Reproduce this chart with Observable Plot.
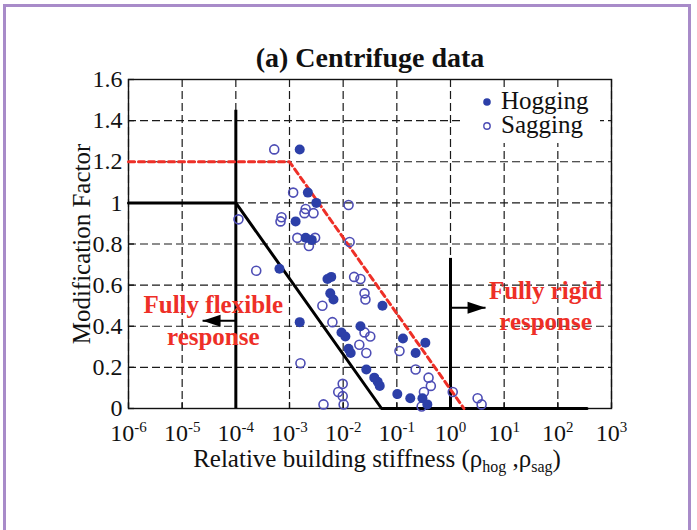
<!DOCTYPE html>
<html><head><meta charset="utf-8">
<script src="https://cdn.jsdelivr.net/npm/d3@7"></script>
<script src="https://cdn.jsdelivr.net/npm/@observablehq/plot@0.6"></script>
<style>
html,body{margin:0;padding:0;background:#fff;}
#wrap{position:relative;width:697px;height:530px;overflow:hidden;background:#fff;}
#border{position:absolute;left:3px;top:4px;width:688px;height:560px;border:3px solid #a88bc9;box-sizing:border-box;}
#chart{position:absolute;left:0;top:0;}
</style></head><body>
<div id="wrap"><div id="border"></div><div id="chart"></div></div>
<script>
// ---- data ----
const xTicks = [1e-6, 1e-5, 1e-4, 1e-3, 1e-2, 1e-1, 1e0, 1e1, 1e2, 1e3];
const yTicks = [0, 0.2, 0.4, 0.6, 0.8, 1.0, 1.2, 1.4, 1.6];

const hogRho = [1.55e-3, 2.2e-3, 3.16e-3, 1.3e-3, 2.0e-3, 2.6e-3, 6.5e-4, 6.0e-3, 5.1e-3, 5.75e-3,
  6.6e-3, 5.4e-2, 1.55e-3, 2.1e-2, 9.3e-3, 1.1e-2, 0.13, 0.34, 1.26e-2, 1.38e-2,
  0.224, 2.7e-2, 3.8e-2, 4.4e-2, 4.8e-2, 0.102, 0.178, 0.30, 0.37];
const hogFactor = [1.26, 1.05, 1.00, 0.91, 0.83, 0.82, 0.68, 0.64, 0.63, 0.56,
  0.53, 0.50, 0.42, 0.40, 0.37, 0.35, 0.34, 0.32, 0.29, 0.27,
  0.27, 0.19, 0.15, 0.13, 0.11, 0.07, 0.05, 0.05, 0.02];

const sagRho = [5.2e-4, 1.17e-3, 2.0e-3, 1.9e-3, 2.8e-3, 1.26e-2, 1.12e-4, 7.1e-4, 6.8e-4, 1.4e-3,
  3.0e-3, 2.3e-3, 1.32e-2, 2.4e-4, 1.6e-2, 2.1e-2, 2.5e-2, 2.6e-2, 4.1e-3, 6.3e-3,
  2.5e-2, 3.2e-2, 2.0e-2, 2.7e-2, 0.112, 1.6e-3, 0.224, 0.39, 0.43, 0.32,
  0.29, 1.1, 3.2, 3.8, 9.8e-3, 8.1e-3, 9.8e-3, 4.3e-3, 1.02e-2];
const sagFactor = [1.26, 1.05, 0.97, 0.95, 0.95, 0.99, 0.92, 0.93, 0.91, 0.83,
  0.83, 0.79, 0.81, 0.67, 0.64, 0.63, 0.56, 0.53, 0.50, 0.42,
  0.37, 0.35, 0.31, 0.27, 0.28, 0.22, 0.19, 0.15, 0.11, 0.08,
  0.01, 0.08, 0.05, 0.02, 0.12, 0.08, 0.06, 0.02, 0.02];

const lowerBoundRho = [1e-6, 1e-4, 0.052, 350];
const lowerBoundFactor = [1, 1, 0, 0];
const upperBoundRho = [1e-6, 1e-3, 1.78];
const upperBoundFactor = [1.2, 1.2, 0];

const limitRho = [1e-4, 1];
const limitTop = [1.45, 0.73];
const arrowFrom = [1e-4, 1];
const arrowTo = [2.4e-5, 4.5];
const arrowFactor = [0.427, 0.49];
const arrowAngle = [180, 0];

const noteText = ["Fully flexible", "response", "Fully rigid", "response"];
const noteRho = [3.8e-5, 3.8e-5, 59, 59];
const noteFactor = [0.505, 0.35, 0.57, 0.42];

const legendNames = ["Hogging", "Sagging"];

// ---- tables ----
const hog = hogRho.map((r, i) => ({rho: r, factor: hogFactor[i]}));
const sag = sagRho.map((r, i) => ({rho: r, factor: sagFactor[i]}));
const lower = lowerBoundRho.map((r, i) => ({rho: r, factor: lowerBoundFactor[i]}));
const upper = upperBoundRho.map((r, i) => ({rho: r, factor: upperBoundFactor[i]}));
const limits = limitRho.map((r, i) => ({rho: r, top: limitTop[i]}));
const arrows = arrowFrom.map((r, i) => ({from: r, to: arrowTo[i], factor: arrowFactor[i], angle: arrowAngle[i]}));
const notes = noteText.map((t, i) => ({text: t, rho: noteRho[i], factor: noteFactor[i]}));

const arrowHead = {draw(ctx) { ctx.moveTo(0, 0); ctx.lineTo(-18, -6); ctx.lineTo(-18, 6); ctx.closePath(); }};

const serif = '"Liberation Serif","Times New Roman",serif';
const hogColor = "#2c3fa8", sagColor = "#4d4db5", red = "#ee2f27";

const plot = Plot.plot({
  width: 697, height: 530,
  marginLeft: 128, marginRight: 86, marginTop: 79, marginBottom: 122,
  x: {type: "log", domain: [1e-6, 1e3]},
  y: {domain: [0, 1.6]},
  style: {fontFamily: serif, fontSize: "24px", color: "#111", background: "transparent", overflow: "visible"},
  marks: [
    Plot.gridX(xTicks, {stroke: "#1a1a1a", strokeOpacity: 1, strokeWidth: 1.2, strokeDasharray: "8,4"}),
    Plot.gridY(yTicks, {stroke: "#1a1a1a", strokeOpacity: 1, strokeWidth: 1.2, strokeDasharray: "8,4"}),
    Plot.tickX(xTicks, {stroke: "#111", strokeWidth: 1.3, insetTop: 323}),
    Plot.tickY(yTicks, {stroke: "#111", strokeWidth: 1.3, insetRight: 477}),
    Plot.frame({stroke: "#111", strokeWidth: 1.4}),
    Plot.axisX(xTicks, {tickSize: 0, tickPadding: 15, fontSize: 24, label: null,
      tickFormat: d => String(Math.round(Math.log10(d)))}),
    Plot.axisY(yTicks, {tickSize: 0, tickPadding: 6, fontSize: 24, label: null,
      tickFormat: d => String(+d.toFixed(1))}),
    Plot.text(["Modification Factor"], {frameAnchor: "left", textAnchor: "middle", lineAnchor: "middle",
      dx: -47, rotate: -90, fontSize: 25, text: d => d}),
    Plot.text(["(a) Centrifuge data"], {frameAnchor: "top", lineAnchor: "middle", dy: -21,
      fontWeight: "bold", fontSize: 28, text: d => d}),
    Plot.line(lower, {x: "rho", y: "factor", stroke: "#000", strokeWidth: 3}),
    Plot.ruleX(limits, {x: "rho", y1: 0, y2: "top", stroke: "#000", strokeWidth: 3}),
    Plot.line(upper, {x: "rho", y: "factor", stroke: red, strokeWidth: 3, strokeDasharray: "6,4"}),
    Plot.link(arrows, {x1: "from", x2: "to", y1: "factor", y2: "factor", stroke: "#000", strokeWidth: 2}),
    Plot.dot(arrows, {x: "to", y: "factor", symbol: arrowHead, rotate: "angle", fill: "#000", stroke: "none"}),
    Plot.text(notes, {x: "rho", y: "factor", text: "text", fill: red, fontWeight: "bold", fontSize: 25}),
    Plot.dot(sag, {x: "rho", y: "factor", r: 4.5, stroke: sagColor, strokeWidth: 1.6, fill: "none"}),
    Plot.dot(hog, {x: "rho", y: "factor", r: 5, fill: hogColor, stroke: "none"})
  ]
});
document.getElementById("chart").appendChild(plot);

const svg = d3.select(plot);
// superscript exponents on x tick labels
svg.selectAll('g[aria-label="x-axis tick label"] text').each(function() {
  const t = d3.select(this);
  const e = t.text();
  t.text(null);
  t.append("tspan").text("10");
  t.append("tspan").attr("dy", "-9").style("font-size", "15px").text(e);
});

// x axis label with subscripts
const xl = svg.append("text").attr("x", 377).attr("y", 467)
  .style("text-anchor", "middle").style("font-family", serif).style("font-size", "25px").style("fill", "#111");
xl.append("tspan").text("Relative building stiffness (ρ");
xl.append("tspan").attr("dy", 5).style("font-size", "16px").text("hog");
xl.append("tspan").attr("dy", -5).text(" ,ρ");
xl.append("tspan").attr("dy", 5).style("font-size", "16px").text("sag");
xl.append("tspan").attr("dy", -5).text(")");

// legend
const lg = svg.append("g").attr("aria-label", "legend");
lg.append("rect").attr("x", 462).attr("y", 88).attr("width", 138).attr("height", 55).style("fill", "#ffffff").style("stroke", "none");
legendNames.forEach((name, i) => {
  const cy = 102 + i * 24;
  if (i === 0) lg.append("circle").attr("cx", 487).attr("cy", cy).attr("r", 3.8).style("fill", hogColor);
  else lg.append("circle").attr("cx", 487).attr("cy", cy).attr("r", 3.2).style("fill", "none").style("stroke", sagColor).style("stroke-width", 1.4);
  lg.append("text").attr("x", 501).attr("y", cy + 7).style("text-anchor", "start")
    .style("font-family", serif).style("font-size", "25px").style("fill", "#111").text(name);
});
</script>
</body></html>
